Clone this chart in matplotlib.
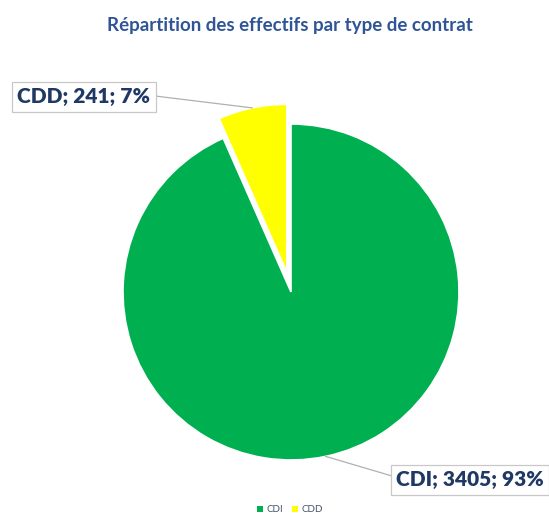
import numpy as np
import matplotlib
matplotlib.use("Agg")
import matplotlib.pyplot as plt
from matplotlib.patches import Patch

plt.rcParams["font.family"] = ["Lato", "DejaVu Sans"]

labels = ["CDI", "CDD"]
counts = [3405, 241]
percents = ["93%", "7%"]
colors = ["#00B050", "#FFFF00"]
explode = [0.0, 0.12]

W, H = 549, 521
fig = plt.figure(figsize=(W / 100, H / 100), dpi=100)

# pie centre / radius in pixels, axes in radius units
cx, cy, R = 291, 292, 168
ax = fig.add_axes([0, 0, 1, 1])
wedges, _ = ax.pie(counts, colors=colors, explode=explode, startangle=90,
                   counterclock=False, radius=1.0,
                   wedgeprops=dict(edgecolor="white", linewidth=1.2))
ax.set_xlim(-cx / R, (W - cx) / R)
ax.set_ylim(-(H - cy) / R, cy / R)
ax.set_aspect("equal")
ax.axis("off")


def px(x, y):
    return ((x - cx) / R, (cy - y) / R)


# data labels with leader lines
box_pos = {"CDD": (84, 97), "CDI": (470, 480)}
line_end = {"CDD": (155, 96), "CDI": (392, 476)}
for w, lab, n, pct, ex in zip(wedges, labels, counts, percents, explode):
    thetam = np.deg2rad(0.5 * (w.theta1 + w.theta2))
    ax_pt = ((1 + ex) * np.cos(thetam), (1 + ex) * np.sin(thetam))
    ex_pt = px(*line_end[lab])
    ax.plot([ax_pt[0], ex_pt[0]], [ax_pt[1], ex_pt[1]], color="#B0B0B0", lw=0.9)
    bx, by = px(*box_pos[lab])
    ax.text(bx, by, f"{lab}; {n}; {pct}", ha="center", va="center",
            fontsize=15, fontweight="heavy", color="#1F3864",
            bbox=dict(boxstyle="square,pad=0.25", fc="white", ec="#C8C8C8", lw=0.9))

fig.text(290 / W, 1 - 26 / H, "Répartition des effectifs par type de contrat",
         ha="center", va="center", fontsize=13.5, fontweight="bold", color="#2F5597")

handles = [Patch(facecolor=c, edgecolor="none") for c in colors]
fig.legend(handles, labels, loc="center", bbox_to_anchor=(290 / W, 1 - 510 / H),
           ncol=2, frameon=False, fontsize=7, handlelength=0.6, handleheight=0.6,
           handletextpad=0.3, columnspacing=1.0, labelcolor="#44546A")

fig.savefig("out.png", dpi=100)
